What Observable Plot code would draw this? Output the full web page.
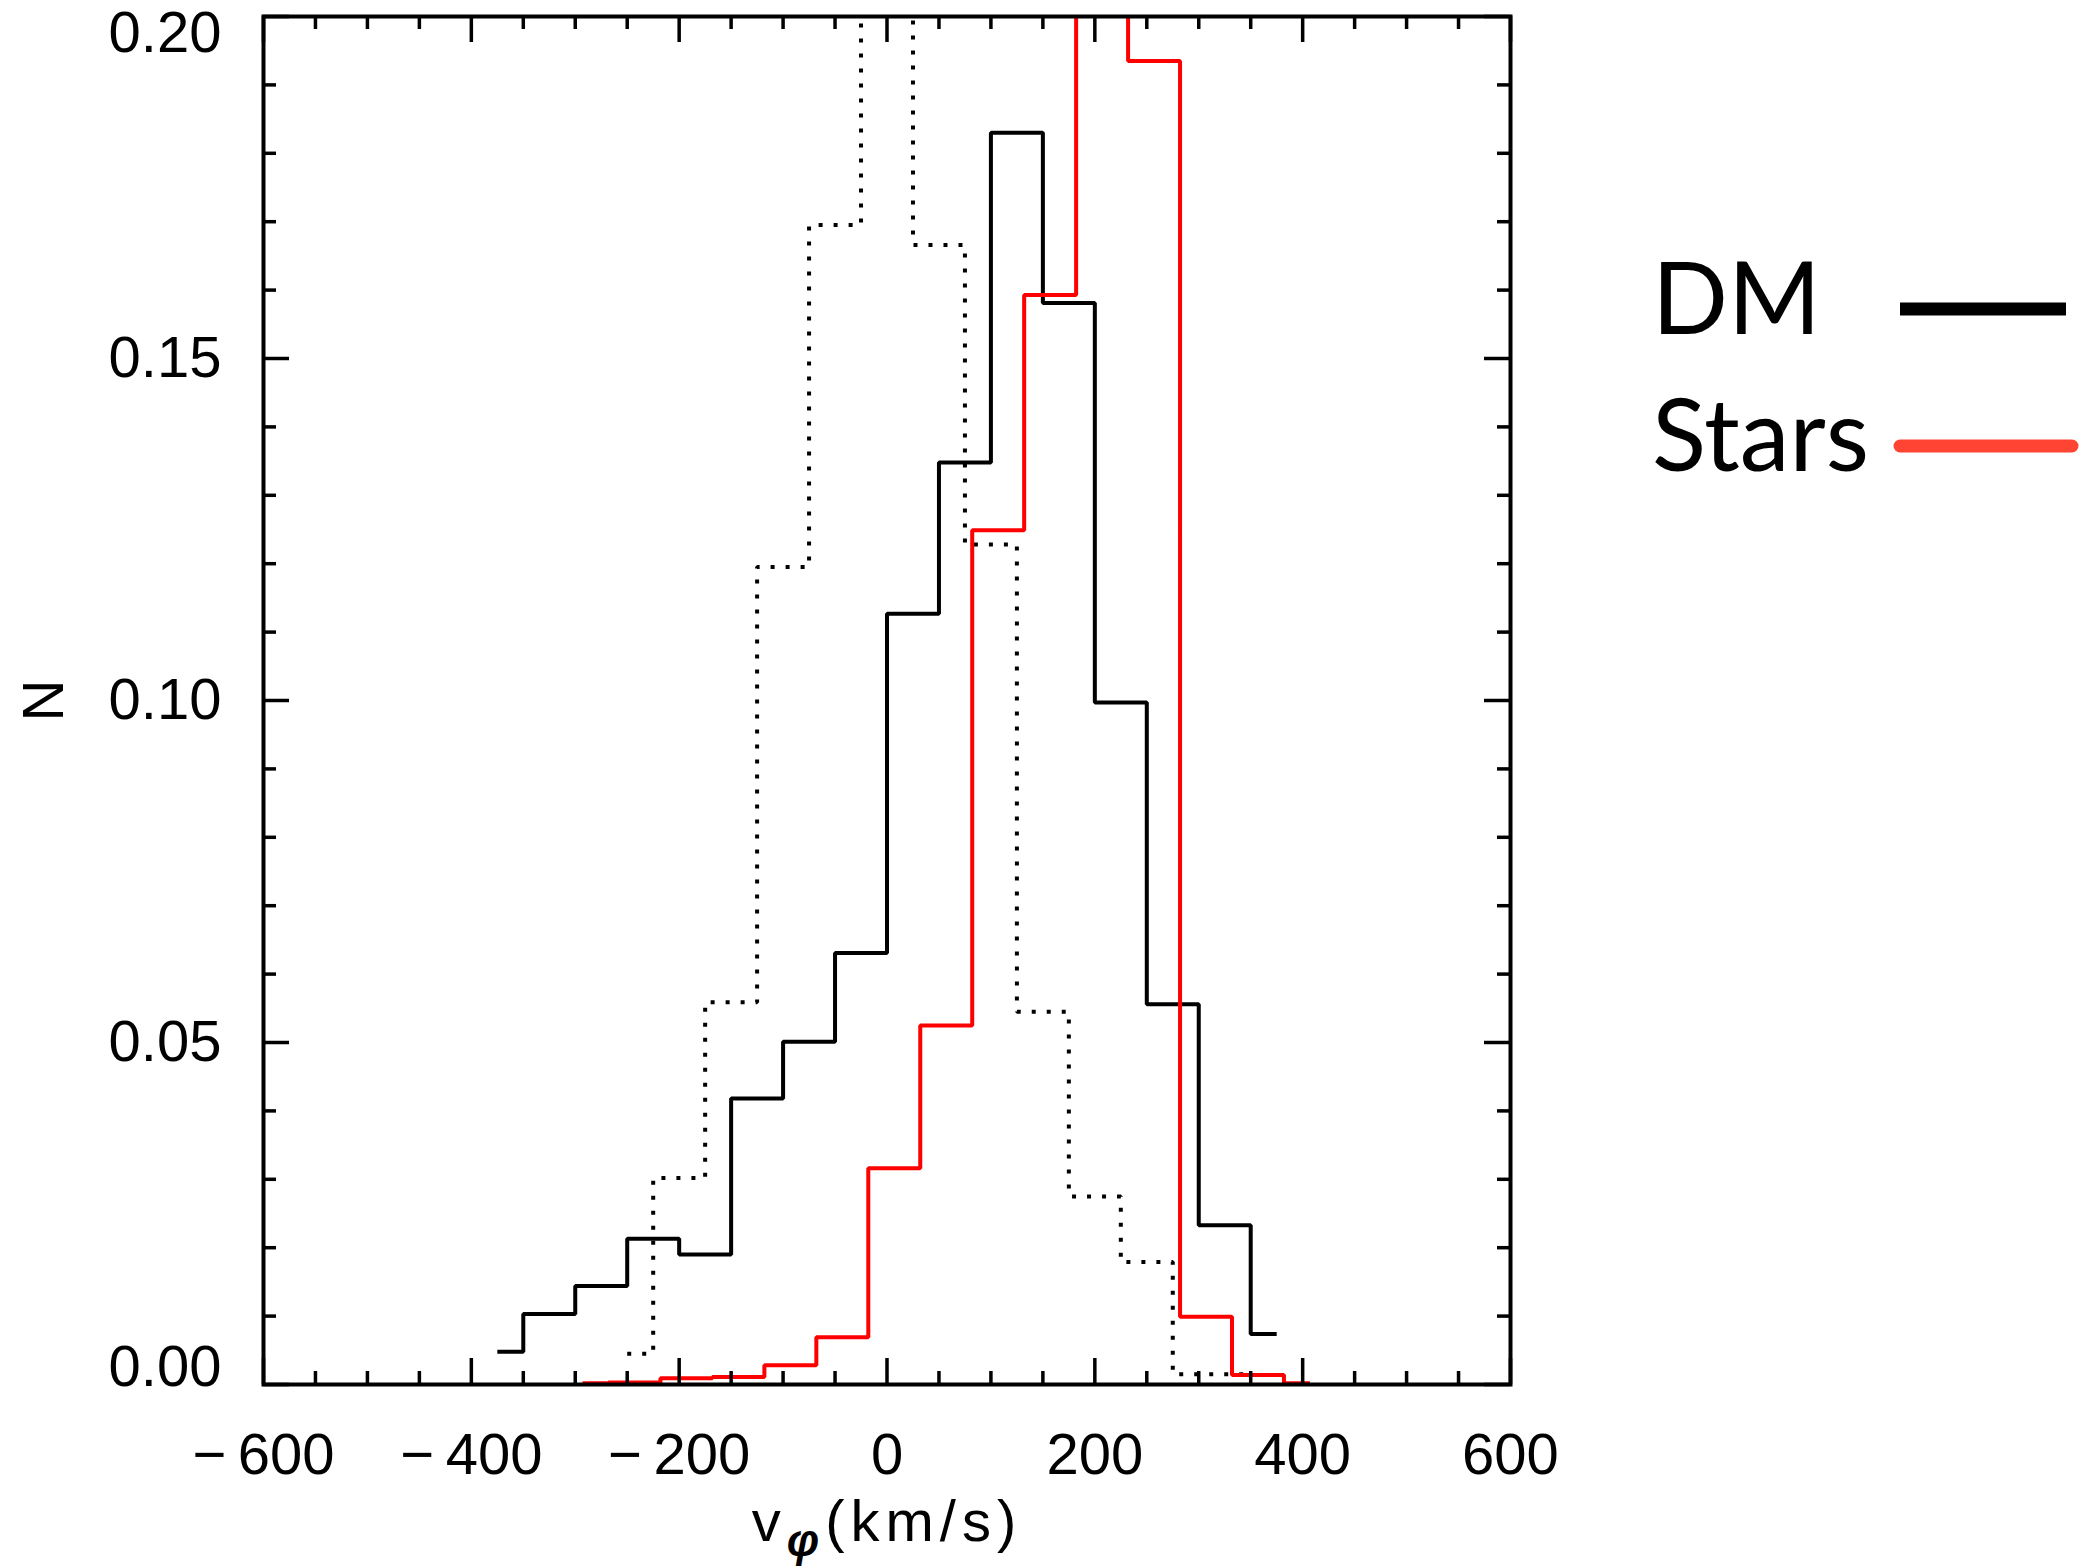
<!DOCTYPE html>
<html>
<head>
<meta charset="utf-8">
<script src="https://cdn.jsdelivr.net/npm/d3@7"></script>
<script src="https://cdn.jsdelivr.net/npm/@observablehq/plot@0.6"></script>
<style>
  html, body { margin: 0; padding: 0; background: #fff; }
  #wrap { position: relative; width: 2097px; height: 1566px; overflow: hidden; }
  #overlay { position: absolute; left: 0; top: 0; pointer-events: none; }
</style>
</head>
<body>
<div id="wrap"></div>
<script>
// ---------- data (bin centres in km/s, normalised counts N) ----------
const dmCenters = [-375, -325, -275, -225, -175, -125, -75, -25, 25, 75, 125, 175, 225, 275, 325, 375];
const dmValues  = [0.0048, 0.0103, 0.0144, 0.0213, 0.0190, 0.0418, 0.0501, 0.0631, 0.1127, 0.1348, 0.1830, 0.1581, 0.0997, 0.0556, 0.0233, 0.0074];

const dotCenters = [-250, -200, -150, -100, -50, 0, 50, 100, 150, 200, 250, 300, 350];
const dotValues  = [0.0045, 0.0302, 0.0559, 0.1195, 0.1695, 0.2280, 0.1666, 0.1228, 0.0545, 0.0275, 0.0179, 0.0015, 0.0015];

const starCenters = [-293, -243, -193, -143, -93, -43, 7, 57, 107, 157, 207, 257, 307, 357, 407];
const starValues  = [0.0002, 0.0003, 0.0009, 0.0011, 0.0028, 0.0069, 0.0316, 0.0525, 0.1249, 0.1593, 0.4140, 0.1935, 0.0099, 0.0014, 0.0002];

const xTicks = [-600, -400, -200, 0, 200, 400, 600];
const yTicks = [0.00, 0.05, 0.10, 0.15, 0.20];
const xDomain = [-600, 600];
const yDomain = [0, 0.2];

const legendLabels = ["DM", "Stars"];
const legendColors = ["#000000", "#ff4433"];

// ---------- layout ----------
const W = 2097, H = 1566;
const mL = 263, mR = 587, mT = 16, mB = 182;
const innerW = W - mL - mR, innerH = H - mT - mB;
const majorLen = 26, minorLen = 13;

const xMinor = d3.range(xDomain[0], xDomain[1] + 1, 50).filter(v => !xTicks.includes(v));
const yMinor = d3.range(0, 21, 1).map(v => v / 100).filter(v => !yTicks.some(t => Math.abs(t - v) < 1e-9));

const dm = dmCenters.map((x, i) => ({x, y: dmValues[i]}));
const dots = dotCenters.map((x, i) => ({x, y: dotValues[i]}));
const stars = starCenters.map((x, i) => ({x, y: starValues[i]}));

const fmtX = d => d < 0 ? "\u2212\u2009" + (-d) : String(d);
const fmtY = d => d.toFixed(2);

const tickStyle = {stroke: "black", strokeWidth: 3.5};

const chart = Plot.plot({
  width: W, height: H,
  marginLeft: mL, marginRight: mR, marginTop: mT, marginBottom: mB,
  style: {background: "white", fontFamily: "'Liberation Sans', Arial, sans-serif", fontSize: "58px", color: "black"},
  x: {domain: xDomain},
  y: {domain: yDomain},
  marks: [
    // histograms
    Plot.line(dots, {x: "x", y: "y", curve: "step", stroke: "black", strokeWidth: 4, strokeDasharray: "4,11", strokeLinecap: "butt", strokeLinejoin: "miter", clip: true}),
    Plot.line(dm, {x: "x", y: "y", curve: "step", stroke: "black", strokeWidth: 4, strokeLinecap: "butt", strokeLinejoin: "miter", clip: true}),
    Plot.line(stars, {x: "x", y: "y", curve: "step", stroke: "#ff0000", strokeWidth: 4, strokeLinecap: "butt", strokeLinejoin: "miter", clip: true}),
    // inward ticks, all four sides
    Plot.tickX(xTicks, {x: d => d, insetTop: innerH - majorLen, ...tickStyle}),
    Plot.tickX(xMinor, {x: d => d, insetTop: innerH - minorLen, ...tickStyle}),
    Plot.tickX(xTicks, {x: d => d, insetBottom: innerH - majorLen, ...tickStyle}),
    Plot.tickX(xMinor, {x: d => d, insetBottom: innerH - minorLen, ...tickStyle}),
    Plot.tickY(yTicks, {y: d => d, insetRight: innerW - majorLen, ...tickStyle}),
    Plot.tickY(yMinor, {y: d => d, insetRight: innerW - minorLen, ...tickStyle}),
    Plot.tickY(yTicks, {y: d => d, insetLeft: innerW - majorLen, ...tickStyle}),
    Plot.tickY(yMinor, {y: d => d, insetLeft: innerW - minorLen, ...tickStyle}),
    // tick labels
    Plot.axisX({anchor: "bottom", ticks: xTicks, tickSize: 0, tickPadding: 48, tickFormat: fmtX, label: null}),
    Plot.axisY({anchor: "left", ticks: yTicks.slice(0, 1), tickSize: 0, tickPadding: 42, tickFormat: fmtY, dy: -17, label: null}),
    Plot.axisY({anchor: "left", ticks: yTicks.slice(1, -1), tickSize: 0, tickPadding: 42, tickFormat: fmtY, label: "N", labelAnchor: "center", labelOffset: 242, labelArrow: "none"}),
    Plot.axisY({anchor: "left", ticks: yTicks.slice(-1), tickSize: 0, tickPadding: 42, tickFormat: fmtY, dy: 17, label: null}),
    Plot.frame({stroke: "black", strokeWidth: 4})
  ]
});

const wrap = document.getElementById("wrap");
wrap.appendChild(chart);

// ---------- x label and legend overlay ----------
const svg = d3.select(wrap).append("svg")
  .attr("id", "overlay").attr("width", W).attr("height", H);

const xl = svg.append("text")
  .attr("x", 887).attr("y", 1541)
  .attr("text-anchor", "middle")
  .attr("font-family", "'Liberation Sans', Arial, sans-serif")
  .attr("letter-spacing", 6)
  .attr("font-size", 58).attr("fill", "black");
xl.append("tspan").text("v");
xl.append("tspan").attr("font-weight", "bold").attr("font-style", "italic").attr("font-size", 46).attr("dy", 15).text("\u03c6");
xl.append("tspan").attr("dy", -15).text("(km/s)");

const leg = svg.append("g");
legendLabels.forEach((lab, i) => {
  const baseline = 334 + i * 137;
  leg.append("text")
    .attr("x", 1652).attr("y", baseline)
    .attr("font-family", "Lato, 'Open Sans', sans-serif")
    .attr("font-size", 100).attr("fill", "black")
    .text(lab);
  leg.append("line")
    .attr("x1", 1900).attr("x2", i === 0 ? 2066 : 2072)
    .attr("y1", baseline - 25).attr("y2", baseline - 25)
    .attr("stroke", legendColors[i]).attr("stroke-width", 13)
    .attr("stroke-linecap", i === 0 ? "butt" : "round");
});
</script>
</body>
</html>
